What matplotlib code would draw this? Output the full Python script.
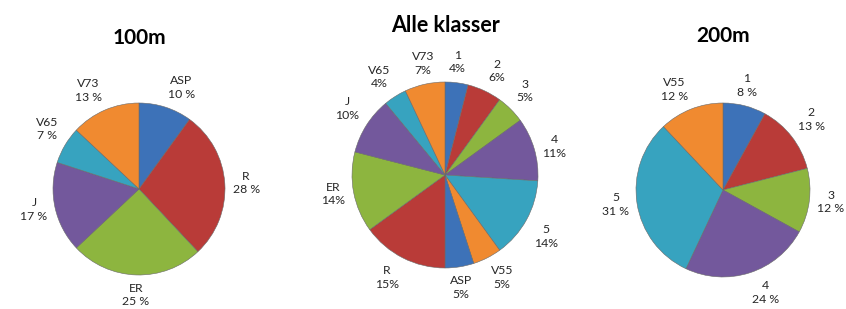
import numpy as np
import matplotlib.pyplot as plt

plt.rcParams['font.family'] = ['Lato', 'DejaVu Sans']

# data
labels_100 = ['ASP', 'R', 'ER', 'J', 'V65', 'V73']
values_100 = [10, 28, 25, 17, 7, 13]

labels_all = ['1', '2', '3', '4', '5', 'V55', 'ASP', 'R', 'ER', 'J', 'V65', 'V73']
values_all = [4, 6, 5, 11, 14, 5, 5, 15, 14, 10, 4, 7]

labels_200 = ['1', '2', '3', '4', '5', 'V55']
values_200 = [8, 13, 12, 24, 31, 12]

palette = ['#3d72b8', '#b93b38', '#8db53f', '#73589c', '#37a3bf', '#f08a30']

W, H = 846, 309
fig = plt.figure(figsize=(W / 100, H / 100), dpi=100)


def draw_pie(cx, cy, r, labels, values, fmt, title, tsize, ty):
    half = 1.6 * r
    ax = fig.add_axes([(cx - half) / W, (H - cy - half) / H, 2 * half / W, 2 * half / H])
    cols = [palette[i % len(palette)] for i in range(len(values))]
    wedges, _ = ax.pie(values, colors=cols, startangle=90, counterclock=False,
                       wedgeprops=dict(edgecolor='#6a6a6a', linewidth=0.4))
    for w, lab, v in zip(wedges, labels, values):
        ang = np.deg2rad((w.theta1 + w.theta2) / 2)
        c, s = np.cos(ang), np.sin(ang)
        ha = 'left' if c > 0.3 else ('right' if c < -0.3 else 'center')
        va = 'bottom' if s > 0.3 else ('top' if s < -0.3 else 'center')
        ax.text(1.09 * c, 1.09 * s, lab + '\n' + fmt.format(v), ha=ha, va=va,
                multialignment='center', fontsize=8.8, color='#262626',
                linespacing=1.3, clip_on=False)
    ax.set_xlim(-1.6, 1.6)
    ax.set_ylim(-1.6, 1.6)
    ax.set_aspect('equal')
    ax.axis('off')
    fig.text(cx / W, 1 - ty / H, title, ha='center', va='center',
             fontsize=tsize, fontweight='bold')


draw_pie(139, 189, 86, labels_100, values_100, '{} %', '100m', 15, 38)
draw_pie(445, 175, 93, labels_all, values_all, '{}%', 'Alle klasser', 15.5, 25)
draw_pie(723, 190, 87, labels_200, values_200, '{} %', '200m', 15, 36)

fig.savefig('out.png', dpi=100)
